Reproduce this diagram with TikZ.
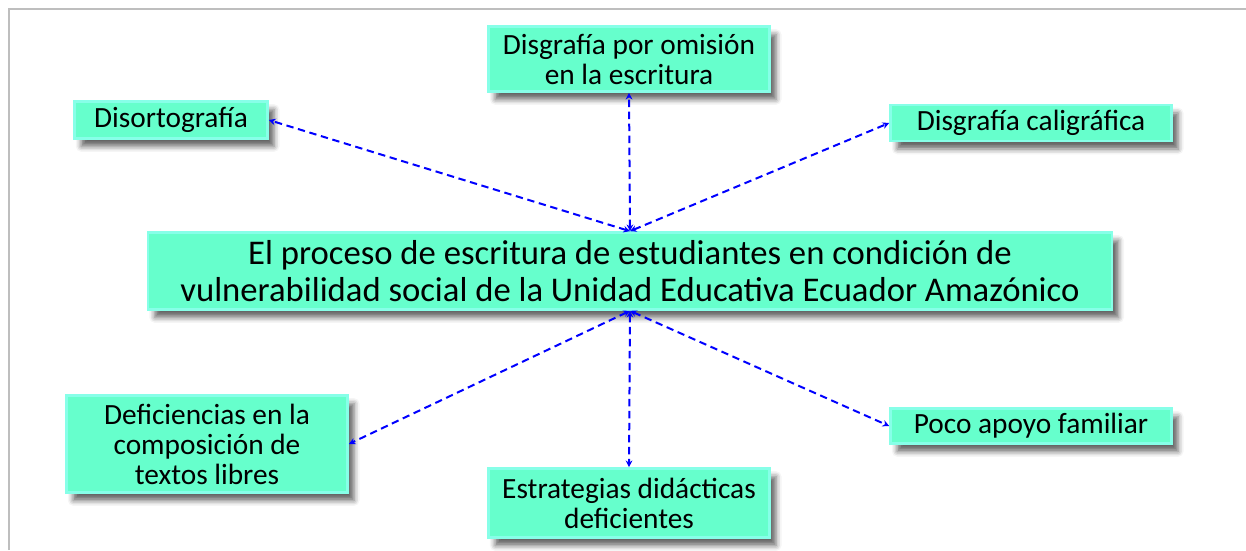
\documentclass[tikz,border=0pt]{standalone}
\usepackage{fontspec}
\setmainfont{Carlito}
\usepackage{tikz}
\usetikzlibrary{arrows.meta,shadows.blur}

\definecolor{boxfill}{RGB}{102,255,204}
\definecolor{boxedge}{RGB}{135,255,232}
\definecolor{framegray}{RGB}{190,190,190}

\tikzset{
  cajita/.style={fill=boxfill, draw=boxedge, line width=2pt, inner sep=0pt,
    align=center, font=\fontsize{22}{22.5}\selectfont,
    blur shadow={shadow xshift=5pt, shadow yshift=-6pt, shadow blur radius=4pt, shadow opacity=60}},
  enlace/.style={blue, line width=1.5pt, dash pattern=on 5.5pt off 3.5pt,
    {Stealth[length=5pt,width=5pt]}-{Stealth[length=5pt,width=5pt]}}
}

\begin{document}
\begin{tikzpicture}[x=0.75pt,y=-0.75pt]
  \useasboundingbox (0,0) rectangle (1246,550);
  %\draw[thin,gray!40] (0,0) grid[step=50] (1246,550);
  \draw[framegray, line width=1.5pt] (8.5,550) -- (8.5,8.5) -- (1246,8.5);

  % tema central
  \node[cajita, minimum width=723pt, minimum height=57.75pt,
        font=\fontsize{26}{27.75}\selectfont] (tema) at (630,271)
    {El proceso de escritura de estudiantes en condición de\\vulnerabilidad social de la Unidad Educativa Ecuador Amazónico};

  % cajas de arriba
  \node[cajita, minimum width=144.75pt, minimum height=27.75pt] (disorto) at (171,120) {Disortografía};
  \node[cajita, minimum width=210.75pt, minimum height=48.75pt] (omision) at (629,59) {Disgrafía por omisión\\en la escritura};
  \node[cajita, minimum width=210.75pt, minimum height=27pt] (caligr) at (1031,123) {Disgrafía caligráfica};

  % cajas de abajo
  \node[cajita, minimum width=210.75pt, minimum height=72.75pt] (textos) at (207,444) {Deficiencias en la\\composición de\\textos libres};
  \node[cajita, minimum width=210.75pt, minimum height=51.75pt] (estrat) at (629,503) {Estrategias didácticas\\deficientes};
  \node[cajita, minimum width=210.75pt, minimum height=26.25pt] (apoyo) at (1031,426) {Poco apoyo familiar};

  \draw[enlace] (tema.north) -- (disorto.east);
  \draw[enlace] (tema.north) -- (omision.south);
  \draw[enlace] (tema.north) -- (caligr.west);
  \draw[enlace] (tema.south) -- (textos.east);
  \draw[enlace] (tema.south) -- (estrat.north);
  \draw[enlace] (tema.south) -- (apoyo.west);
\end{tikzpicture}
\end{document}
